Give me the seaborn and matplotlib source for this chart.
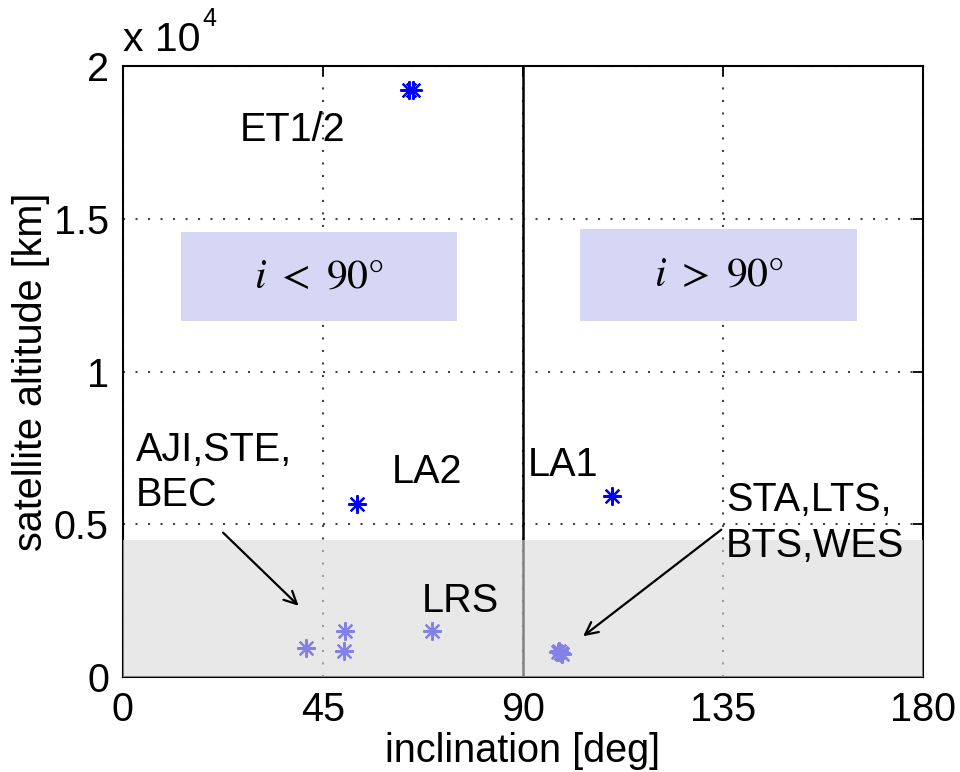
import matplotlib
matplotlib.use("Agg")
import matplotlib.pyplot as plt
import seaborn as sns
import pandas as pd
from matplotlib.patches import Rectangle

# ---- data ----
upper_names = ["ET1", "ET2", "LA2", "LA1"]
upper_incl = [64.5, 65.3, 52.7, 110.0]
upper_alt = [19200, 19200, 5650, 5920]

lower_names = ["AJI", "STE", "BEC", "LRS", "STA", "LTS", "BTS", "WES"]
lower_incl = [50.0, 49.8, 41.2, 69.5, 98.6, 98.2, 98.8, 97.9]
lower_alt = [1500, 850, 950, 1500, 800, 850, 760, 820]

xticks = [0, 45, 90, 135, 180]
yticks = [0, 5000, 10000, 15000, 20000]
ytick_labels = ["0", "0.5", "1", "1.5", "2"]

sns.set_style("white")
plt.rcParams["font.family"] = ["Liberation Sans", "DejaVu Sans"]
plt.rcParams["mathtext.fontset"] = "stix"
plt.rcParams["text.color"] = "black"
plt.rcParams["axes.labelcolor"] = "black"

FS = 28.5
fig = plt.figure(figsize=(9.6, 7.72), dpi=100)
ax = fig.add_axes([0.128, 0.123, 0.833, 0.7915])

up = pd.DataFrame({"name": upper_names, "incl": upper_incl, "alt": upper_alt})
lo = pd.DataFrame({"name": lower_names, "incl": lower_incl, "alt": lower_alt})

star = (8, 2, 0)
sns.scatterplot(data=up, x="incl", y="alt", marker=star, color="#0000ff",
                s=150, linewidth=1.6, ax=ax, zorder=2)
sns.scatterplot(data=lo, x="incl", y="alt", marker=star, color="#0000ff",
                s=150, linewidth=1.6, ax=ax, zorder=2)

ax.set_xlim(0, 180)
ax.set_ylim(0, 20000)
ax.set_xticks(xticks)
ax.set_xticklabels([str(t) for t in xticks])
ax.set_yticks(yticks)
ax.set_yticklabels(ytick_labels)
ax.tick_params(direction="in", length=7, width=1.3, top=True, right=True,
               labelsize=FS, pad=10, colors="black")
for sp in ax.spines.values():
    sp.set_linewidth(1.5)
    sp.set_color("black")
    sp.set_visible(True)

ax.grid(True, linestyle=(0, (1, 5)), color="#444444", linewidth=1.5)
ax.axvline(90, color="black", linewidth=1.8, zorder=2)

# shaded region (drawn on top of points, fading them)
ax.add_patch(Rectangle((0, 0), 180, 4500, facecolor="#d9d9d9", alpha=0.6,
                       edgecolor="none", zorder=3))

# boxes
ax.add_patch(Rectangle((13.1, 11640), 62.2, 2920, facecolor="#d6d6f5",
                       edgecolor="none", zorder=2))
ax.add_patch(Rectangle((102.9, 11670), 62.4, 2990, facecolor="#d6d6f5",
                       edgecolor="none", zorder=2))
ax.text(44.2, 13100, r"$i\ <\ 90°$", fontsize=30, ha="center", va="center", zorder=4)
ax.text(134.1, 13160, r"$i\ >\ 90°$", fontsize=30, ha="center", va="center", zorder=4)

# labels
ax.text(38.1, 17900, "ET1/2", fontsize=FS, ha="center", va="center", zorder=4)
ax.text(68.4, 6720, "LA2", fontsize=FS, ha="center", va="center", zorder=4)
ax.text(99.0, 6950, "LA1", fontsize=FS, ha="center", va="center", zorder=4)
ax.text(76.0, 2500, "LRS", fontsize=FS, ha="center", va="center", zorder=4)
ax.text(3.0, 6700, "AJI,STE,\nBEC", fontsize=FS, ha="left", va="center",
        zorder=4, linespacing=1.25)
ax.text(135.8, 5050, "STA,LTS,\nBTS,WES", fontsize=FS, ha="left", va="center",
        zorder=4, linespacing=1.25)

arrow = dict(arrowstyle="->,head_length=0.9,head_width=0.45", color="black", lw=1.6)
ax.annotate("", xy=(40.0, 2270), xytext=(22.1, 4790), arrowprops=arrow, zorder=4)
ax.annotate("", xy=(103.1, 1280), xytext=(135.2, 4880), arrowprops=arrow, zorder=4)

ax.set_xlabel("inclination [deg]", fontsize=FS, labelpad=2)
ax.set_ylabel("satellite altitude [km]", fontsize=FS, labelpad=3)

# exponent label
ax.text(0.0, 1.012, "x 10", transform=ax.transAxes, fontsize=FS + 1, ha="left",
        va="bottom")
ax.text(0.099, 1.058, "4", transform=ax.transAxes, fontsize=18, ha="left",
        va="bottom")

fig.savefig("out.png", dpi=100)
